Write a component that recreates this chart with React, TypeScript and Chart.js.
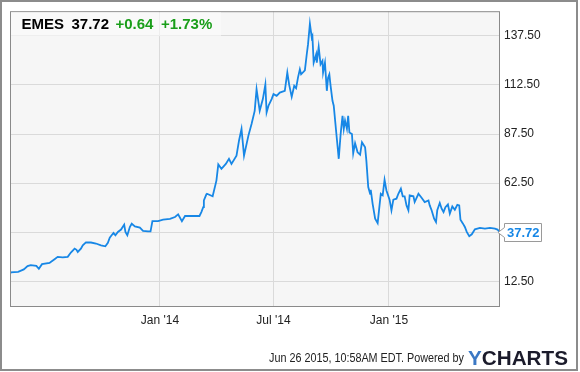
import React, { useEffect, useRef } from "react";
import { Chart, registerables } from "chart.js";

Chart.register(...registerables);

const symbol = "EMES";
const lastPriceText = "37.72";
const changeText = "+0.64";
const changePctText = "+1.73%";
const footerText = "Jun 26 2015, 10:58AM EDT. Powered by";
const brandY = "Y";
const brandRest = "CHARTS";

const tickDates = ["2014-01-01", "2014-07-01", "2015-01-01"];
const tickLabels = ["Jan '14", "Jul '14", "Jan '15"];
const yTicks = [12.5, 37.5, 62.5, 87.5, 112.5, 137.5];
const yMin = 0;
const yMax = 150;

const dates = [
  "2013-05-07", "2013-05-08", "2013-05-20", "2013-05-29", "2013-06-04", "2013-06-09", "2013-06-18", "2013-06-22",
  "2013-06-27", "2013-07-09", "2013-07-17", "2013-07-22", "2013-07-30", "2013-08-07", "2013-08-12", "2013-08-18",
  "2013-08-21", "2013-08-23", "2013-08-28", "2013-08-31", "2013-09-05", "2013-09-13", "2013-09-21", "2013-09-29",
  "2013-10-06", "2013-10-10", "2013-10-13", "2013-10-16", "2013-10-19", "2013-10-22", "2013-10-26", "2013-10-31",
  "2013-11-05", "2013-11-07", "2013-11-10", "2013-11-14", "2013-11-17", "2013-11-22", "2013-11-30", "2013-12-05",
  "2013-12-13", "2013-12-17", "2013-12-20", "2013-12-29", "2014-01-06", "2014-01-17", "2014-01-25", "2014-01-30",
  "2014-02-05", "2014-02-10", "2014-02-20", "2014-03-05", "2014-03-08", "2014-03-11", "2014-03-12", "2014-03-16",
  "2014-03-17", "2014-03-26", "2014-04-01", "2014-04-04", "2014-04-09", "2014-04-16", "2014-04-21", "2014-04-25",
  "2014-05-03", "2014-05-07", "2014-05-11", "2014-05-15", "2014-05-22", "2014-05-27", "2014-06-01", "2014-06-04",
  "2014-06-09", "2014-06-14", "2014-06-18", "2014-06-20", "2014-06-23", "2014-06-28", "2014-07-01", "2014-07-06",
  "2014-07-11", "2014-07-19", "2014-07-23", "2014-07-26", "2014-07-30", "2014-08-03", "2014-08-06", "2014-08-09",
  "2014-08-12", "2014-08-14", "2014-08-20", "2014-08-23", "2014-08-25", "2014-08-28", "2014-08-31", "2014-09-01",
  "2014-09-03", "2014-09-07", "2014-09-08", "2014-09-11", "2014-09-14", "2014-09-17", "2014-09-18", "2014-09-21",
  "2014-09-24", "2014-09-26", "2014-09-28", "2014-09-30", "2014-10-03", "2014-10-05", "2014-10-09", "2014-10-13",
  "2014-10-16", "2014-10-19", "2014-10-21", "2014-10-23", "2014-10-26", "2014-10-28", "2014-10-30", "2014-11-03",
  "2014-11-05", "2014-11-08", "2014-11-12", "2014-11-16", "2014-11-19", "2014-11-24", "2014-11-26", "2014-11-29",
  "2014-12-02", "2014-12-03", "2014-12-06", "2014-12-10", "2014-12-14", "2014-12-17", "2014-12-19", "2014-12-22",
  "2014-12-25", "2014-12-28", "2015-01-02", "2015-01-05", "2015-01-08", "2015-01-13", "2015-01-16", "2015-01-20",
  "2015-01-23", "2015-01-26", "2015-01-29", "2015-02-01", "2015-02-03", "2015-02-09", "2015-02-11", "2015-02-17",
  "2015-02-22", "2015-02-27", "2015-03-05", "2015-03-07", "2015-03-10", "2015-03-14", "2015-03-17", "2015-03-19",
  "2015-03-23", "2015-03-26", "2015-03-29", "2015-04-01", "2015-04-05", "2015-04-08", "2015-04-12", "2015-04-16",
  "2015-04-20", "2015-04-23", "2015-04-25", "2015-04-29", "2015-05-02", "2015-05-05", "2015-05-09", "2015-05-13",
  "2015-05-18", "2015-05-26", "2015-06-03", "2015-06-11", "2015-06-19", "2015-06-23", "2015-06-26",
];

const prices = [
  17.0, 17.1, 17.4, 18.6, 20.3, 20.8, 20.4, 18.9,
  21.3, 21.9, 23.8, 25.0, 24.7, 25.0, 27.2, 29.2,
  28.6, 27.5, 29.2, 30.9, 32.4, 32.3, 31.8, 30.9,
  30.4, 32.1, 34.8, 36.0, 37.2, 36.0, 37.7, 38.9,
  41.4, 37.7, 36.0, 40.2, 41.9, 40.5, 39.9, 38.2,
  38.0, 38.0, 43.2, 43.2, 43.9, 44.3, 45.3, 46.6,
  43.1, 45.8, 45.8, 45.8, 47.8, 50.3, 53.7, 56.8,
  57.1, 55.8, 63.8, 72.0, 69.8, 72.3, 74.9, 72.3,
  76.5, 84.1, 90.1, 76.5, 86.7, 92.6, 99.3, 110.3,
  99.3, 105.3, 112.7, 98.5, 101.9, 105.3, 107.8, 106.9,
  108.6, 109.5, 118.8, 112.5, 106.4, 112.0, 110.8, 116.2,
  120.4, 117.9, 119.9, 128.1, 133.1, 143.6, 136.5, 137.3,
  123.8, 128.1, 123.8, 131.8, 123.0, 124.7, 118.8, 123.8,
  109.5, 116.2, 117.9, 112.0, 104.4, 101.9, 88.3, 74.9,
  87.5, 96.8, 90.1, 94.3, 90.1, 96.8, 88.3, 87.5,
  77.7, 82.8, 78.2, 77.0, 83.3, 80.7, 74.0, 60.5,
  57.1, 59.1, 52.0, 44.4, 42.2, 51.2, 57.1, 56.3,
  64.2, 58.8, 54.1, 48.7, 54.1, 54.6, 57.1, 59.7,
  55.8, 55.8, 51.2, 48.7, 56.3, 55.8, 52.9, 57.1,
  55.1, 52.9, 53.7, 51.2, 48.7, 44.4, 42.7, 48.7,
  52.4, 49.5, 47.8, 50.3, 51.7, 47.0, 50.7, 49.0,
  51.5, 51.2, 43.9, 41.9, 40.2, 37.7, 35.5, 36.5,
  39.0, 39.7, 39.4, 39.7, 39.4, 38.9, 37.72,
];

const DAY_MS = 86400000;
const BASE = Date.UTC(2014, 0, 1);
const toDay = (s: string) => {
  const [y, m, d] = s.split("-").map(Number);
  return (Date.UTC(y, m - 1, d) - BASE) / DAY_MS;
};

const FONT = "'Liberation Sans', Arial, sans-serif";
const LINE_BLUE = "#1787e6";

const decoPlugin = {
  id: "deco",
  beforeDraw(chart: any) {
    const { ctx, chartArea: a } = chart;
    ctx.save();
    ctx.fillStyle = "#ffffff";
    ctx.fillRect(0, 0, chart.width, chart.height);
    ctx.fillStyle = "#f6f6f6";
    ctx.fillRect(a.left, a.top, a.right - a.left, a.bottom - a.top);
    ctx.restore();
  },
  afterDraw(chart: any) {
    const { ctx, chartArea: a } = chart;
    ctx.save();
    // plot border
    ctx.strokeStyle = "#8a8a8a";
    ctx.lineWidth = 1;
    ctx.strokeRect(a.left + 0.5, a.top + 0.5, a.right - a.left - 1, a.bottom - a.top);

    // header box
    ctx.fillStyle = "rgba(252,252,252,0.6)";
    ctx.fillRect(a.left + 1, a.top + 1, 210, 24);
    ctx.textBaseline = "alphabetic";
    ctx.textAlign = "left";
    ctx.font = `bold 15px ${FONT}`;
    ctx.fillStyle = "#000000";
    ctx.fillText(symbol, 21.5, 29);
    ctx.fillText(lastPriceText, 71.5, 29);
    ctx.fillStyle = "#1a9e1a";
    ctx.fillText(changeText, 115.5, 29);
    ctx.fillText(changePctText, 161, 29);

    // last value label
    const last = prices[prices.length - 1];
    const y = Math.round(chart.scales.y.getPixelForValue(last)) + 0.5;
    const r = a.right;
    ctx.beginPath();
    ctx.moveTo(r - 2, y);
    ctx.lineTo(r + 4.5, y - 5);
    ctx.lineTo(r + 4.5, y - 9);
    ctx.lineTo(r + 41.5, y - 9);
    ctx.lineTo(r + 41.5, y + 9);
    ctx.lineTo(r + 4.5, y + 9);
    ctx.lineTo(r + 4.5, y + 5);
    ctx.closePath();
    ctx.fillStyle = "#ffffff";
    ctx.fill();
    ctx.strokeStyle = "#9a9a9a";
    ctx.stroke();
    ctx.font = `bold 13px ${FONT}`;
    ctx.fillStyle = LINE_BLUE;
    ctx.textBaseline = "middle";
    ctx.fillText(lastPriceText, r + 7, y + 0.5);

    // footer (fit to original width)
    ctx.textBaseline = "alphabetic";
    ctx.font = `12px ${FONT}`;
    ctx.fillStyle = "#222222";
    const wF = ctx.measureText(footerText).width;
    ctx.save();
    ctx.translate(269, 362);
    ctx.scale(Math.min(1, 195 / wF), 1);
    ctx.fillText(footerText, 0, 0);
    ctx.restore();

    ctx.font = `bold 20px ${FONT}`;
    const wY = ctx.measureText(brandY).width;
    const wR = ctx.measureText(brandRest).width;
    const sx = 100 / (wY + wR);
    ctx.save();
    ctx.translate(468, 365);
    ctx.scale(sx, 1);
    ctx.fillStyle = "#3b78c4";
    ctx.fillText(brandY, 0, 0);
    ctx.fillStyle = "#1b1b2b";
    ctx.fillText(brandRest, wY, 0);
    ctx.restore();

    // outer frame
    ctx.strokeStyle = "#8c8c8c";
    ctx.lineWidth = 2;
    ctx.strokeRect(1, 1, 576, 369);
    ctx.restore();
  },
};

export default function App() {
  const ref = useRef<HTMLCanvasElement>(null);

  useEffect(() => {
    document.body.style.margin = "0";
    const canvas = ref.current;
    if (!canvas) return;
    const tickValues = tickDates.map(toDay);
    const chart = new Chart(canvas, {
      type: "line",
      data: {
        datasets: [
          {
            data: dates.map((d, i) => ({ x: toDay(d), y: prices[i] })),
            borderColor: LINE_BLUE,
            borderWidth: 1.8,
            pointRadius: 0,
            tension: 0,
            fill: false,
          },
        ],
      },
      options: {
        animation: false,
        responsive: false,
        devicePixelRatio: 1,
        layout: { padding: { left: 10, top: 10, right: 0, bottom: 0 } },
        plugins: { legend: { display: false }, tooltip: { enabled: false } },
        events: [],
        scales: {
          x: {
            type: "linear",
            min: toDay(dates[0]),
            max: toDay(dates[dates.length - 1]) + 1,
            afterBuildTicks: (scale: any) => {
              scale.ticks = tickValues.map((v) => ({ value: v }));
            },
            afterFit: (scale: any) => {
              scale.height = 66;
            },
            grid: { color: "#dadada", lineWidth: 1, drawTicks: false },
            border: { display: false },
            ticks: {
              padding: 7,
              color: "#222222",
              font: { family: FONT, size: 12 },
              maxRotation: 0,
              callback: (v: any) => {
                const idx = tickValues.indexOf(Number(v));
                return idx >= 0 ? tickLabels[idx] : "";
              },
            },
          },
          y: {
            position: "right",
            min: yMin,
            max: yMax,
            afterBuildTicks: (scale: any) => {
              scale.ticks = yTicks.map((v) => ({ value: v }));
            },
            afterFit: (scale: any) => {
              scale.width = 80;
            },
            grid: { color: "#dadada", lineWidth: 1, drawTicks: false },
            border: { display: false },
            ticks: {
              padding: 4,
              color: "#222222",
              font: { family: FONT, size: 12 },
              callback: (v: any) => (Number(v) === 37.5 ? "" : Number(v).toFixed(2)),
            },
          },
        },
      },
      plugins: [decoPlugin],
    });
    return () => chart.destroy();
  }, []);

  return (
    <div style={{ width: 580, height: 372 }}>
      <canvas ref={ref} width={580} height={372} style={{ display: "block", width: 580, height: 372 }} />
    </div>
  );
}
